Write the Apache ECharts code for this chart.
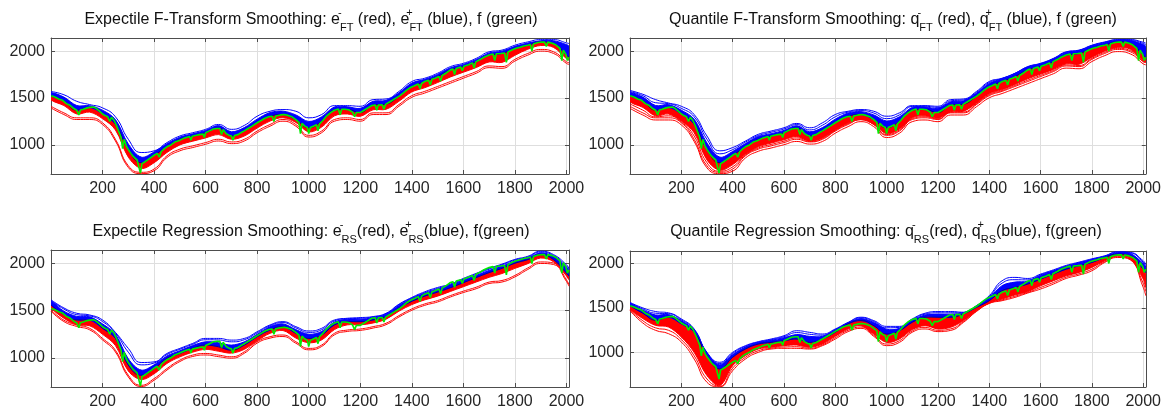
<!DOCTYPE html>
<html>
<head>
<meta charset="utf-8">
<script src="https://cdn.jsdelivr.net/npm/echarts@6/dist/echarts.min.js"></script>
<style>
html,body{margin:0;padding:0;background:#fff;}
#c{width:1164px;height:411px;}
</style>
</head>
<body>
<div id="c"></div>
<script>
// ---------- data ----------
const X = [0,50,100,150,200,250,300,350,400,450, 500,550,600,650,700,750,800,850,900,950,
           1000,1050,1100,1150,1200,1250,1300,1350,1400,1450, 1500,1550,1600,1650,1700,1750,1800,1850,1900,1950, 2000,2010];
const xTicks = [200,400,600,800,1000,1200,1400,1600,1800,2000];
const yTicks = [1000,1500,2000];

// f (green): the observed series, shared by all panels
const fData = [[1,1525],[15,1510],[30,1490],[45,1475],[60,1440],[75,1420],[90,1385],[100,1370],[108,1320],[114,1372],[125,1380],[140,1395],[150,1400],[165,1405],[175,1390],[188,1360],[200,1330],[212,1310],[220,1300],[228,1250],[235,1295],[245,1260],[255,1200],[265,1130],[272,1080],[278,960],[284,1060],[292,990],[300,950],[310,910],[318,880],[326,860],[334,840],[341,820],[347,700],[353,800],[362,815],[375,840],[390,870],[400,890],[412,910],[420,870],[428,930],[440,960],[450,980],[465,1000],[480,1030],[495,1045],[500,1060],[515,1070],[525,1080],[538,1090],[543,1050],[548,1092],[560,1100],[575,1110],[590,1115],[595,1080],[600,1130],[615,1150],[630,1170],[645,1175],[655,1175],[662,1110],[668,1165],[680,1120],[692,1100],[700,1095],[706,1050],[712,1100],[725,1110],[740,1135],[750,1150],[765,1175],[780,1200],[800,1236],[815,1260],[830,1285],[845,1300],[858,1306],[865,1250],[872,1308],[890,1320],[905,1325],[920,1315],[935,1300],[950,1270],[962,1240],[968,1120],[974,1230],[985,1200],[995,1185],[1000,1120],[1006,1185],[1018,1200],[1030,1215],[1036,1150],[1042,1225],[1055,1260],[1070,1310],[1085,1345],[1100,1370],[1115,1382],[1122,1320],[1128,1380],[1140,1380],[1155,1375],[1170,1350],[1178,1300],[1185,1345],[1200,1345],[1215,1370],[1230,1395],[1245,1420],[1258,1425],[1264,1370],[1270,1425],[1285,1428],[1292,1380],[1298,1432],[1315,1460],[1330,1485],[1350,1518],[1365,1550],[1380,1585],[1395,1612],[1410,1630],[1425,1650],[1432,1600],[1438,1655],[1450,1676],[1465,1690],[1472,1640],[1478,1700],[1490,1712],[1505,1730],[1512,1680],[1518,1740],[1535,1770],[1550,1800],[1560,1808],[1566,1750],[1572,1815],[1590,1830],[1596,1790],[1602,1838],[1620,1855],[1635,1875],[1642,1820],[1648,1885],[1665,1910],[1680,1935],[1700,1958],[1715,1970],[1722,1900],[1728,1972],[1745,1975],[1760,1980],[1767,1880],[1773,1990],[1790,2015],[1805,2030],[1820,2042],[1835,2055],[1850,2063],[1860,2070],[1866,2000],[1872,2075],[1890,2092],[1905,2098],[1915,2096],[1922,2050],[1928,2096],[1945,2085],[1960,2065],[1975,2030],[1982,1900],[1988,2010],[1998,1965],[2004,1900],[2010,1935]];

// Panel 1: expectile F-transform
const p1Mid  = [1525,1470,1370,1400,1330,1220,950,810,890,980, 1060,1095,1130,1180,1095,1150,1236,1306,1325,1270, 1183,1254,1370,1377,1345,1425,1435,1518,1620,1676, 1729,1800,1835,1887,1958,1975,2028,2063,2098,2081, 1958,1935];
const p1Top  = [1558,1510,1420,1418,1370,1270,1010,870,925,1013, 1083,1118,1154,1206,1140,1185,1275,1345,1360,1320, 1250,1300,1405,1407,1390,1465,1475,1555,1660,1699, 1752,1823,1858,1911,1981,1999,2051,2086,2111,2111, 2070,2050];
const p1Low  = [1480,1420,1330,1350,1280,1160,870,750,810,920, 1000,1040,1075,1110,1060,1095,1180,1255,1290,1240, 1140,1190,1310,1330,1305,1375,1380,1465,1565,1610, 1665,1725,1775,1825,1885,1880,1955,2020,2060,2040, 1920,1905];
const p1Blue1 = [1570,1535,1465,1430,1395,1300,1060,919,937,1025, 1095,1130,1166,1218,1166,1208,1306,1359,1377,1359, 1289,1324,1419,1419,1412,1483,1490,1570,1676,1711, 1764,1835,1870,1923,1993,2011,2063,2098,2123,2123, 2088,2081];
const p1Red1 = [1412,1342,1289,1289,1236,1060,778,708,743,884, 955,990,1025,1060,1032,1060,1148,1218,1271,1218, 1102,1148,1271,1289,1271,1342,1342,1430,1525,1571, 1623,1676,1729,1782,1842,1835,1912,1975,2018,1993, 1887,1877];
const p1Red2 = [1394,1324,1271,1271,1218,1042,760,694,725,866, 937,972,1007,1042,1014,1042,1130,1200,1253,1200, 1084,1130,1253,1271,1253,1324,1324,1412,1507,1553, 1605,1658,1711,1764,1824,1817,1894,1957,2000,1975, 1869,1859];

// Panel 2: quantile F-transform
const p2Mid  = [1525,1470,1370,1400,1330,1220,950,810,890,980, 1060,1095,1130,1180,1095,1150,1236,1306,1325,1270, 1183,1254,1370,1377,1345,1425,1435,1518,1620,1676, 1729,1800,1835,1887,1958,1975,2028,2063,2098,2081, 1958,1935];
const p2Top  = [1560,1510,1420,1430,1370,1275,1020,870,930,1015, 1090,1120,1155,1205,1140,1185,1275,1340,1355,1320, 1255,1300,1400,1405,1390,1460,1470,1550,1655,1705, 1760,1830,1865,1915,1985,2005,2055,2090,2118,2115, 2070,2050];
const p2Low  = [1460,1400,1310,1330,1255,1130,840,730,790,900, 980,1020,1055,1090,1040,1075,1160,1235,1270,1220, 1120,1170,1290,1310,1285,1355,1360,1445,1545,1590, 1645,1705,1755,1805,1865,1860,1935,2000,2040,2020, 1900,1885];
const p2Blue1 = [1581,1540,1483,1447,1412,1324,1095,937,972,1042, 1113,1148,1183,1229,1183,1236,1324,1359,1377,1359, 1306,1342,1419,1419,1412,1483,1490,1570,1676,1711, 1764,1835,1870,1923,1993,2011,2063,2098,2123,2123, 2095,2085];
const p2Blue2 = [1570,1525,1450,1440,1390,1300,1060,905,950,1030, 1100,1135,1170,1217,1160,1210,1300,1350,1366,1340, 1280,1320,1410,1412,1400,1470,1480,1560,1665,1708, 1762,1832,1867,1919,1989,2008,2059,2094,2120,2119, 2082,2068];
const p2Red1 = [1412,1342,1289,1289,1236,1060,778,708,743,884, 955,990,1025,1060,1032,1060,1148,1218,1271,1218, 1102,1148,1271,1289,1271,1342,1342,1430,1525,1571, 1623,1676,1729,1782,1842,1835,1912,1975,2018,1993, 1887,1877];
const p2Red2 = [1390,1319,1266,1266,1213,1037,755,694,720,861, 932,967,1002,1037,1009,1037,1125,1195,1248,1195, 1079,1125,1248,1266,1248,1319,1319,1407,1502,1548, 1600,1653,1706,1759,1819,1812,1889,1952,1995,1970, 1864,1854];
const p2Red3 = [1436,1371,1300,1310,1245,1095,810,719,766,892, 967,1005,1040,1075,1036,1068,1154,1227,1270,1219, 1111,1159,1280,1300,1278,1348,1351,1437,1535,1580, 1634,1690,1742,1793,1853,1847,1923,1987,2029,2006, 1893,1881];

// Panel 3: expectile regression
const p3Mid  = [1562,1460,1402,1402,1313,1206,922,815,886,993, 1046,1100,1135,1117,1082,1135,1224,1295,1331,1260, 1206,1242,1349,1384,1384,1402,1438,1529,1600,1655, 1698,1745,1798,1852,1905,1950,2005,2043,2096,2043, 1900,1870];
const p3Top  = [1600,1495,1440,1435,1360,1250,990,870,925,1020, 1075,1130,1170,1160,1135,1170,1250,1330,1360,1300, 1250,1280,1380,1410,1410,1425,1460,1555,1628,1685, 1728,1772,1825,1875,1928,1972,2028,2060,2115,2075, 1960,1925];
const p3Low  = [1530,1420,1350,1340,1250,1130,860,770,830,940, 1010,1060,1090,1070,1050,1090,1180,1260,1290,1210, 1160,1190,1300,1350,1350,1370,1410,1495,1565,1615, 1655,1705,1755,1805,1855,1895,1950,2000,2060,2020, 1870,1830];
const p3Blue1 = [1616,1530,1473,1455,1402,1270,1100,950,957,1046, 1100,1153,1206,1206,1188,1206,1277,1349,1384,1331, 1285,1313,1402,1420,1427,1438,1473,1569,1641,1701, 1747,1783,1843,1897,1950,1995,2045,2078,2132,2096, 1989,1950];
const p3Blue2 = [1608,1518,1458,1445,1385,1262,1060,925,945,1035, 1090,1143,1192,1190,1170,1192,1265,1340,1374,1318, 1270,1298,1392,1415,1420,1433,1468,1563,1634,1692, 1737,1777,1835,1887,1941,1987,2038,2070,2124,2086, 1975,1938];
const p3Red1 = [1509,1400,1349,1313,1206,1080,815,708,779,886, 975,1029,1046,1029,1011,1064,1171,1224,1242,1171, 1100,1135,1260,1295,1306,1331,1367,1448,1519,1572, 1608,1661,1708,1750,1804,1821,1875,1954,2018,2007, 1829,1776];
const p3Red2 = [1495,1385,1333,1297,1190,1062,797,695,762,870, 960,1014,1030,1012,996,1048,1156,1209,1226,1155, 1085,1120,1244,1280,1291,1316,1352,1433,1504,1557, 1593,1646,1693,1734,1789,1805,1859,1938,2002,1991, 1812,1760];

// Panel 4: quantile regression
const p4Mid  = [1525,1440,1360,1395,1320,1226,963,813,944,1037, 1093,1112,1131,1150,1112,1150,1226,1320,1357,1300, 1206,1243,1338,1395,1395,1395,1432,1506,1581,1693, 1730,1768,1824,1880,1936,1974,2011,2067,2105,2086, 1936,1899];
const p4Top  = [1550,1475,1420,1425,1355,1250,990,860,975,1060, 1110,1135,1165,1200,1180,1180,1250,1330,1380,1335, 1260,1270,1360,1420,1430,1430,1445,1520,1615,1750, 1790,1800,1865,1915,1965,2005,2042,2078,2122,2112, 2000,1960];
const p4Low  = [1487,1380,1303,1285,1172,1000,738,626,850,963, 1037,1056,1075,1082,1056,1093,1180,1263,1300,1206, 1112,1150,1256,1300,1263,1282,1357,1469,1555,1600, 1645,1682,1749,1805,1861,1899,1955,2030,2086,2049, 1824,1731];
const p4Blue1 = [1562,1500,1459,1444,1376,1263,1000,888,1000,1075, 1120,1150,1187,1243,1225,1206,1263,1337,1395,1357, 1292,1292,1376,1440,1459,1459,1451,1525,1637,1805, 1843,1831,1880,1928,1978,2015,2052,2086,2131,2124, 2030,1990];
const p4Blue2 = [1556,1488,1440,1435,1365,1256,995,874,988,1068, 1115,1142,1176,1222,1203,1193,1256,1333,1388,1346, 1276,1281,1368,1430,1445,1445,1448,1522,1626,1778, 1817,1815,1872,1920,1970,2008,2046,2082,2126,2118, 2015,1975];
const p4Red1 = [1470,1330,1247,1210,1116,925,663,612,794,925, 1000,1037,1045,1045,1037,1075,1150,1233,1270,1180, 1075,1112,1226,1263,1233,1247,1338,1459,1550,1581, 1618,1667,1712,1768,1831,1869,1918,2011,2067,2040, 1731,1637];
const p4Red2 = [1478,1355,1275,1248,1144,962,700,619,822,944, 1018,1046,1060,1063,1046,1084,1165,1248,1285,1193, 1093,1131,1241,1281,1248,1264,1347,1464,1552,1590, 1631,1674,1730,1786,1846,1884,1936,2020,2076,2044, 1777,1684];

const titles = [
  'Expectile F-Transform Smoothing: e{s|-}{b|FT} (red), e{s|+}{b|FT} (blue), f (green)',
  'Quantile F-Transform Smoothing: q{s|-}{b|FT} (red), q{s|+}{b|FT} (blue), f (green)',
  'Expectile Regression Smoothing: e{s|-}{b|RS}(red), e{s|+}{b|RS}(blue), f(green)',
  'Quantile Regression Smoothing: q{s|-}{b|RS}(red), q{s|+}{b|RS}(blue), f(green)'
];

// ---------- layout / style ----------
const FONT = '"Liberation Sans", Arial, Helvetica, sans-serif';
const AX = '#4d4d4d', GRIDC = '#dedede';
const RED = '#ff0000', BLUE = '#0000ff', GREEN = '#00ee00';

const panels = [
  {g:{left:51, top:38, width:518, height:136}, ymin:690, ymax:2140, mid:p1Mid, top:p1Top, low:p1Low, blues:[p1Blue1], reds:[p1Red1,p1Red2], tx:311, ty:7},
  {g:{left:630, top:38, width:519, height:136}, ymin:690, ymax:2140, mid:p2Mid, top:p2Top, low:p2Low, blues:[p2Blue1,p2Blue2], reds:[p2Red1,p2Red2,p2Red3], tx:893, ty:7},
  {g:{left:51, top:250, width:518, height:137}, ymin:690, ymax:2145, mid:p3Mid, top:p3Top, low:p3Low, blues:[p3Blue1,p3Blue2], reds:[p3Red1,p3Red2], tx:311, ty:219},
  {g:{left:630, top:251, width:519, height:136}, ymin:610, ymax:2140, mid:p4Mid, top:p4Top, low:p4Low, blues:[p4Blue1,p4Blue2], reds:[p4Red1,p4Red2], tx:886, ty:219}
];

const pair = arr => arr.map((v,i)=>[X[i], v]);

// filled band between two curves, drawn through the axis scales (api.coord)
function band(i, upper, lower, color) {
  return {
    type:'custom', xAxisIndex:2*i, yAxisIndex:2*i, silent:true, clip:true, animation:false,
    data:[[X[0], lower[0]]],
    renderItem:(params, api)=>{
      const pts = [];
      for (let k=0;k<X.length;k++) pts.push(api.coord([X[k], upper[k]]));
      for (let k=X.length-1;k>=0;k--) pts.push(api.coord([X[k], lower[k]]));
      return {type:'polygon', shape:{points:pts, smooth:0.35}, style:{fill:color, stroke:color, lineWidth:1}};
    }
  };
}

const grid=[], xAxis=[], yAxis=[], series=[], title=[];
const plainNum = v => String(v);
panels.forEach((p,i)=>{
  grid.push(Object.assign({containLabel:false}, p.g));
  const tickStyle = {inside:true, length:4, lineStyle:{color:AX, width:1}};
  xAxis.push({gridIndex:i, type:'value', min:0, max:2010, position:'bottom',
    axisLine:{show:true, onZero:false, lineStyle:{color:AX, width:1}},
    axisTick:Object.assign({customValues:xTicks}, tickStyle),
    axisLabel:{customValues:xTicks, formatter:plainNum, fontSize:16, fontFamily:FONT, color:'#262626', margin:7},
    splitLine:{show:true, lineStyle:{color:GRIDC, width:1}}});
  xAxis.push({gridIndex:i, type:'value', min:0, max:2010, position:'top',
    axisLine:{show:true, onZero:false, lineStyle:{color:AX, width:1}},
    axisTick:Object.assign({customValues:xTicks}, tickStyle),
    axisLabel:{show:false}, splitLine:{show:false}});
  yAxis.push({gridIndex:i, type:'value', min:p.ymin, max:p.ymax, position:'left',
    axisLine:{show:true, onZero:false, lineStyle:{color:AX, width:1}},
    axisTick:Object.assign({customValues:yTicks}, tickStyle),
    axisLabel:{customValues:yTicks, formatter:plainNum, fontSize:16, fontFamily:FONT, color:'#262626', margin:6},
    splitLine:{show:true, lineStyle:{color:GRIDC, width:1}}});
  yAxis.push({gridIndex:i, type:'value', min:p.ymin, max:p.ymax, position:'right',
    axisLine:{show:true, onZero:false, lineStyle:{color:AX, width:1}},
    axisTick:Object.assign({customValues:yTicks}, tickStyle),
    axisLabel:{show:false}, splitLine:{show:false}});

  const base = {type:'line', xAxisIndex:2*i, yAxisIndex:2*i, showSymbol:false, symbol:'none', smooth:true, silent:true, animation:false};
  series.push(band(i, p.mid, p.low, RED));
  series.push(band(i, p.top, p.mid, BLUE));
  p.reds.forEach(r=>series.push(Object.assign({}, base, {data:pair(r), lineStyle:{width:1, color:RED}})));
  p.blues.forEach(b=>series.push(Object.assign({}, base, {data:pair(b), lineStyle:{width:1, color:BLUE}})));
  series.push(Object.assign({}, base, {data:pair(p.mid), lineStyle:{width:1, color:'#000030', opacity:0.5}}));
  series.push(Object.assign({}, base, {data:fData, smooth:false, lineStyle:{width:1.6, color:GREEN}}));

  title.push({text:titles[i], left:p.tx, top:p.ty, textAlign:'center', padding:0,
    textStyle:{fontSize:16, fontWeight:'normal', fontFamily:FONT, color:'#111', lineHeight:26,
      rich:{
        s:{fontSize:11, lineHeight:13, verticalAlign:'top', width:0, fontFamily:FONT, color:'#111'},
        b:{fontSize:11, lineHeight:13, verticalAlign:'bottom', fontFamily:FONT, color:'#111'}
      }}});
});

const chart = echarts.init(document.getElementById('c'), null, {renderer:'canvas'});
chart.setOption({backgroundColor:'#ffffff', animation:false, title, grid, xAxis, yAxis, series});
</script>
</body>
</html>
